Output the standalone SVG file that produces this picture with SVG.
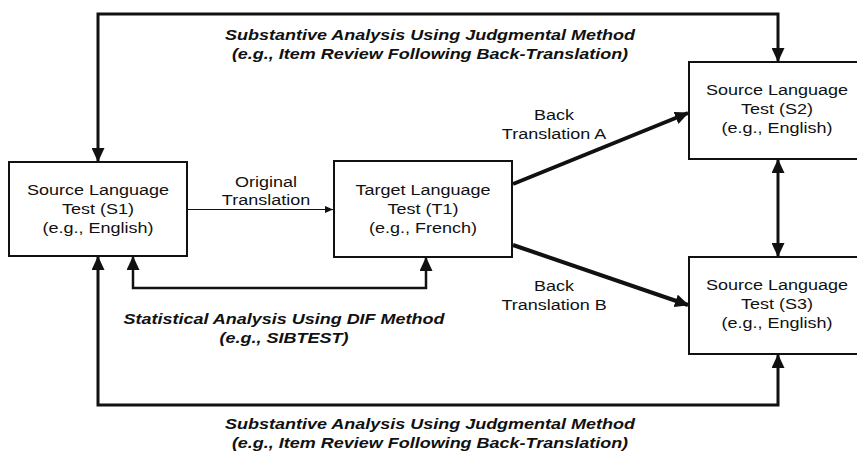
<svg xmlns="http://www.w3.org/2000/svg" width="857" height="454" viewBox="0 0 857 454">
  <style>
    .box { fill: #fff; stroke: #111; stroke-width: 2; }
    .lbl { font-family: "Liberation Sans", Arial, sans-serif; font-size: 15px; fill: #111; text-anchor: middle; }
    .hd { font-family: "Liberation Sans", Arial, sans-serif; font-size: 15px; font-weight: bold; font-style: italic; fill: #111; text-anchor: middle; }
    .wire { fill: none; stroke: #111; stroke-linejoin: miter; }
  </style>
  <defs>
    <marker id="head" markerUnits="userSpaceOnUse" markerWidth="14" markerHeight="13" refX="13" refY="6.5" orient="auto-start-reverse">
      <path d="M0,0 L14,6.5 L0,13 z" fill="#111"/>
    </marker>
    <marker id="headSmall" markerUnits="userSpaceOnUse" markerWidth="8" markerHeight="7" refX="8" refY="3.5" orient="auto">
      <path d="M0,0 L8,3.5 L0,7 z" fill="#111"/>
    </marker>
  </defs>
  <rect width="857" height="454" fill="#fff"/>

  <!-- connectors -->
  <g id="connectors">
    <path class="wire" stroke-width="3" d="M98,161 V14 H778 V61" marker-start="url(#head)" marker-end="url(#head)"/>
    <path class="wire" stroke-width="3" d="M98,257 V405 H778 V355" marker-start="url(#head)" marker-end="url(#head)"/>
    <path class="wire" stroke-width="2.5" d="M133,257 V288 H426 V258" marker-start="url(#head)" marker-end="url(#head)"/>
    <path class="wire" stroke-width="3" d="M778,160 V256" marker-start="url(#head)" marker-end="url(#head)"/>
    <path class="wire" stroke-width="1.2" d="M188,209.5 H333" marker-end="url(#headSmall)"/>
    <path class="wire" stroke-width="4" d="M513,184 L688,113" marker-end="url(#head)"/>
    <path class="wire" stroke-width="4" d="M513,245 L688,305" marker-end="url(#head)"/>
  </g>

  <!-- connector labels -->
  <g id="labels">
    <text class="hd" transform="translate(430 40) scale(1.2 1)"><tspan x="0">Substantive Analysis Using Judgmental Method</tspan><tspan x="0" dy="19">(e.g., Item Review Following Back-Translation)</tspan></text>
    <text class="hd" transform="translate(430 429) scale(1.2 1)"><tspan x="0">Substantive Analysis Using Judgmental Method</tspan><tspan x="0" dy="19">(e.g., Item Review Following Back-Translation)</tspan></text>
    <text class="hd" transform="translate(284 324) scale(1.2 1)"><tspan x="0">Statistical Analysis Using DIF Method</tspan><tspan x="0" dy="19">(e.g., SIBTEST)</tspan></text>
    <text class="lbl" transform="translate(266 187) scale(1.2 1)"><tspan x="0">Original</tspan><tspan x="0" dy="18.5">Translation</tspan></text>
    <text class="lbl" transform="translate(554 120) scale(1.2 1)"><tspan x="0">Back</tspan><tspan x="0" dy="19.5">Translation A</tspan></text>
    <text class="lbl" transform="translate(554 291) scale(1.2 1)"><tspan x="0">Back</tspan><tspan x="0" dy="19.5">Translation B</tspan></text>
  </g>

  <!-- nodes -->
  <g id="s1">
    <rect class="box" x="9" y="162" width="178" height="94"/>
    <text class="lbl" transform="translate(98 195) scale(1.2 1)"><tspan x="0">Source Language</tspan><tspan x="0" dy="19">Test (S1)</tspan><tspan x="0" dy="19">(e.g., English)</tspan></text>
  </g>
  <g id="t1">
    <rect class="box" x="334" y="161" width="178" height="96"/>
    <text class="lbl" transform="translate(423 195) scale(1.2 1)"><tspan x="0">Target Language</tspan><tspan x="0" dy="19">Test (T1)</tspan><tspan x="0" dy="19">(e.g., French)</tspan></text>
  </g>
  <g id="s2">
    <rect class="box" x="689" y="62" width="180" height="97"/>
    <text class="lbl" transform="translate(777 95) scale(1.2 1)"><tspan x="0">Source Language</tspan><tspan x="0" dy="19">Test (S2)</tspan><tspan x="0" dy="19">(e.g., English)</tspan></text>
  </g>
  <g id="s3">
    <rect class="box" x="689" y="257" width="180" height="97"/>
    <text class="lbl" transform="translate(777 290) scale(1.2 1)"><tspan x="0">Source Language</tspan><tspan x="0" dy="19">Test (S3)</tspan><tspan x="0" dy="19">(e.g., English)</tspan></text>
  </g>
</svg>
